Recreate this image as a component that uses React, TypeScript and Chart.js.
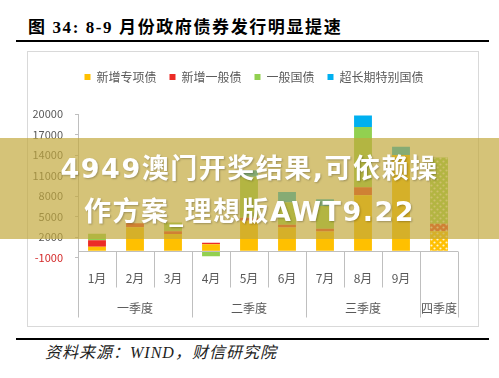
import React, { useEffect, useRef } from 'react';
import { Chart, registerables } from 'chart.js';

Chart.register(...registerables);

// ---- data (亿元) ----
const months = ['1月', '2月', '3月', '4月', '5月', '6月', '7月', '8月', '9月', ''];
const quarterLabels = ['一季度', '二季度', '三季度', '四季度'];
const quarterSpans = [3, 3, 3, 1];
const projectedIndex = 9; // 四季度 (patterned, projected)

const seriesNames = ['新增专项债', '新增一般债', '一般国债', '超长期特别国债'];
const specialBonds = [600, 3450, 2450, 950, 4400, 3400, 2830, 8110, 14000, 2880];
const generalBonds = [960, 580, 430, 250, 430, 400, 390, 1200, 0, 1070];
const nationalBonds = [950, 0, 1250, -800, 6000, 3250, 3350, 8780, 0, 9680];
const ultraLongBonds = [0, 0, 0, 0, 950, 1540, 960, 1680, 1200, 0];
const yTicks = [-1000, 2000, 5000, 8000, 11000, 14000, 17000, 20000];

const seriesColors = ['#FFC000', '#EC2B26', '#92D050', '#00B0F0'];
const FONT = '"Noto Sans CJK SC", "Noto Sans", sans-serif';

function makePattern(color: string): CanvasPattern | string {
  const c = document.createElement('canvas');
  c.width = 6;
  c.height = 6;
  const g = c.getContext('2d');
  if (!g) return color;
  g.fillStyle = color;
  g.fillRect(0, 0, 6, 6);
  g.fillStyle = 'rgba(255,255,255,0.8)';
  g.beginPath();
  g.arc(1.5, 1.5, 1.1, 0, Math.PI * 2);
  g.arc(4.5, 4.5, 1.1, 0, Math.PI * 2);
  g.fill();
  return g.createPattern(c, 'repeat') || color;
}

const groupedXAxis = {
  id: 'groupedXAxis',
  afterDraw(chart: any) {
    const { ctx, scales } = chart;
    const x = scales.x;
    const y = scales.y;
    const zeroY = Math.round(y.getPixelForValue(0)) + 0.5;
    const n = months.length;
    const half = (x.getPixelForValue(1) - x.getPixelForValue(0)) / 2;
    const bounds: number[] = [];
    for (let i = 0; i < n; i++) bounds.push(x.getPixelForValue(i) - half);
    bounds.push(x.getPixelForValue(n - 1) + half);
    const groupIdx = new Set<number>([0]);
    let acc = 0;
    quarterSpans.forEach((s) => {
      acc += s;
      groupIdx.add(acc);
    });
    ctx.save();
    ctx.strokeStyle = '#bfbfbf';
    ctx.lineWidth = 1;
    ctx.beginPath();
    ctx.moveTo(bounds[0], zeroY);
    ctx.lineTo(bounds[n], zeroY);
    bounds.forEach((bx, i) => {
      const px = Math.round(bx) + 0.5;
      ctx.moveTo(px, zeroY);
      ctx.lineTo(px, zeroY + (groupIdx.has(i) ? 66 : 36));
    });
    ctx.stroke();
    ctx.fillStyle = '#595959';
    ctx.font = `12px ${FONT}`;
    ctx.textAlign = 'center';
    ctx.textBaseline = 'middle';
    months.forEach((m, i) => {
      if (m) ctx.fillText(m, x.getPixelForValue(i), zeroY + 26.5);
    });
    let start = 0;
    quarterLabels.forEach((q, k) => {
      const end = start + quarterSpans[k];
      ctx.fillText(q, (bounds[start] + bounds[end]) / 2, zeroY + 56.5);
      start = end;
    });
    ctx.restore();
  },
};

const legendSpacer = {
  id: 'legendSpacer',
  beforeLayout(chart: any) {
    const lg = chart.legend;
    if (lg && !lg.__patched) {
      const origFit = lg.fit;
      lg.fit = function () {
        origFit.call(this);
        this.height += 21;
      };
      const origDraw = lg.draw;
      lg.draw = function (...args: any[]) {
        const c = this.ctx;
        c.save();
        c.translate(11, 0);
        origDraw.apply(this, args);
        c.restore();
      };
      lg.__patched = true;
    }
  },
};

export default function App() {
  const ref = useRef<HTMLCanvasElement>(null);

  useEffect(() => {
    if (!ref.current) return;
    const series = [specialBonds, generalBonds, nationalBonds, ultraLongBonds];
    const datasets = series.map((data, k) => {
      const color = seriesColors[k];
      const pattern = makePattern(color);
      return {
        label: seriesNames[k],
        data,
        backgroundColor: (c: any) => (c.dataIndex === projectedIndex ? pattern : color),
        borderWidth: 0,
        barPercentage: 0.47,
        categoryPercentage: 1,
      };
    });
    const chart = new Chart(ref.current, {
      type: 'bar',
      data: { labels: months, datasets },
      options: {
        animation: false,
        responsive: false,
        devicePixelRatio: 1,
        layout: { padding: { top: 6, right: 20, left: 0, bottom: 0 } },
        plugins: {
          legend: {
            position: 'top',
            labels: {
              boxWidth: 6,
              boxHeight: 6,
              padding: 13,
              color: '#595959',
              font: { size: 12, family: FONT },
            },
          },
          tooltip: { enabled: false },
        },
        scales: {
          x: {
            stacked: true,
            grid: { display: false },
            border: { display: false },
            ticks: { display: false },
            afterFit: (s: any) => {
              s.height = 68.3;
            },
          },
          y: {
            stacked: true,
            min: -1000,
            max: 20000,
            afterBuildTicks: (s: any) => {
              s.ticks = yTicks.map((v) => ({ value: v }));
            },
            afterFit: (s: any) => {
              s.width = 50;
            },
            grid: {
              drawOnChartArea: false,
              drawTicks: true,
              tickLength: 3,
              color: '#bfbfbf',
            },
            border: { display: true, color: '#bfbfbf' },
            ticks: {
              padding: 12,
              font: { size: 11, family: FONT },
              callback: (v: any) => String(v),
              color: (c: any) => (c.tick && c.tick.value < 0 ? '#d42a2a' : '#595959'),
            },
          },
        },
      },
      plugins: [groupedXAxis, legendSpacer],
    } as any);
    return () => chart.destroy();
  }, []);

  return (
    <div
      style={{
        position: 'fixed',
        left: 0,
        top: 0,
        width: 499,
        height: 378,
        background: '#fff',
        overflow: 'hidden',
      }}
    >
      <div
        style={{
          position: 'absolute',
          left: 28,
          top: 18,
          fontFamily: '"Liberation Serif", "Noto Sans CJK SC", serif',
          fontWeight: 700,
          fontSize: 17,
          lineHeight: '20px',
          letterSpacing: 1.6,
          color: '#000',
          whiteSpace: 'nowrap',
        }}
      >
        图 34: 8-9 月份政府债券发行明显提速
      </div>
      <div style={{ position: 'absolute', left: 16, top: 40, width: 473, height: 2, background: '#000' }} />
      <div
        style={{
          position: 'absolute',
          left: 27,
          top: 51,
          width: 452,
          height: 276,
          border: '1px solid #d9d9d9',
          boxSizing: 'border-box',
        }}
      />
      <canvas
        ref={ref}
        width={450}
        height={274}
        style={{ position: 'absolute', left: 28, top: 52, width: 450, height: 274 }}
      />
      <div style={{ position: 'absolute', left: 16, top: 338, width: 473, height: 2, background: '#000' }} />
      <div
        style={{
          position: 'absolute',
          left: 45,
          top: 343,
          fontFamily: '"Liberation Serif", "Noto Sans CJK SC", serif',
          fontStyle: 'italic',
          fontSize: 16,
          lineHeight: '20px',
          letterSpacing: 1,
          color: '#222',
          whiteSpace: 'nowrap',
        }}
      >
        资料来源：WIND，财信研究院
      </div>
      <div
        style={{
          position: 'absolute',
          left: 0,
          top: 138,
          width: 499,
          height: 101,
          background: 'rgba(194,168,59,0.69)',
        }}
      >
        <div
          style={{
            position: 'absolute',
            left: 0,
            top: 9,
            width: 499,
            textAlign: 'center',
            fontFamily: '"DejaVu Sans", "Noto Sans CJK SC", sans-serif',
            fontWeight: 700,
            fontSize: 27,
            lineHeight: '43px',
            letterSpacing: 1.5,
            color: '#fff',
            textShadow: '1px 1px 2px rgba(0,0,0,0.25)',
            whiteSpace: 'nowrap',
          }}
        >
          <div>4949澳门开奖结果,可依赖操</div>
          <div>作方案_理想版AWT9.22</div>
        </div>
      </div>
    </div>
  );
}
